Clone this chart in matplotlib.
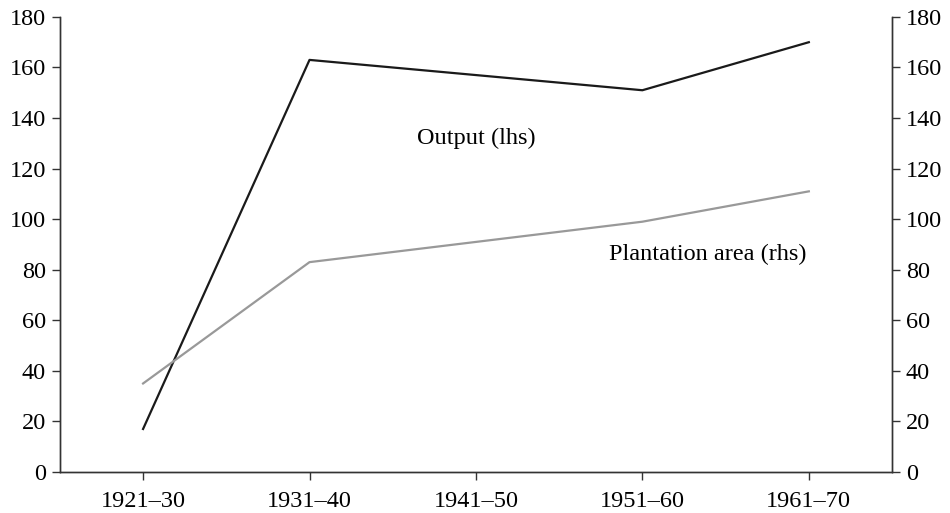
import numpy as np
import matplotlib.pyplot as plt

plt.rcParams['font.family'] = ['Liberation Serif', 'DejaVu Serif']

# Data
periods = ['1921–30', '1931–40', '1941–50', '1951–60', '1961–70']
output_idx = [0, 1, 3, 4]
output_vals = [17, 163, 151, 170]
area_idx = [0, 1, 3, 4]
area_vals = [35, 83, 99, 111]

fig = plt.figure(figsize=(9.5, 5.13), dpi=100)
ax = fig.add_axes([0.063, 0.080, 0.876, 0.887])
ax2 = ax.twinx()

ax.plot(output_idx, output_vals, color='#1a1a1a', lw=1.6)
ax2.plot(area_idx, area_vals, color='#999999', lw=1.6)

ax.set_xlim(-0.5, 4.5)
ax.set_ylim(0, 180)
ax2.set_ylim(0, 180)
ticks = np.arange(0, 181, 20)
ax.set_yticks(ticks)
ax2.set_yticks(ticks)
ax.set_xticks(range(len(periods)))
ax.set_xticklabels(periods)

for a in (ax, ax2):
    a.spines['top'].set_visible(False)
    for s in a.spines.values():
        s.set_color('#333333')
        s.set_linewidth(1.0)
    a.tick_params(labelsize=17.5, length=6, width=1.0, color='#333333', pad=4)

ax.tick_params(axis='x', pad=8)

ax.text(2, 132, 'Output (lhs)', fontsize=17.5, ha='center', va='center')
ax.text(3.39, 86, 'Plantation area (rhs)', fontsize=17.5, ha='center', va='center')

plt.savefig('out.png', dpi=100)
